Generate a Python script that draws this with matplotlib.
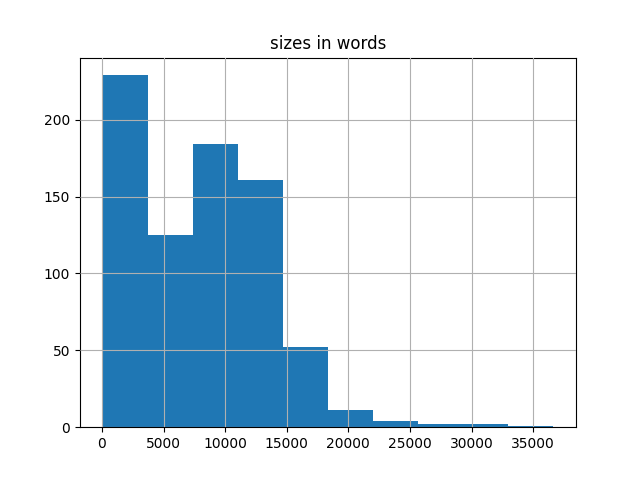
import matplotlib
matplotlib.use("Agg")
import matplotlib.pyplot as plt
import numpy as np

min_size = 50
max_size = 36650
counts = [229, 125, 184, 161, 52, 11, 4, 2, 2, 1]
title = "sizes in words"

edges = np.linspace(min_size, max_size, len(counts) + 1)
fig, ax = plt.subplots(figsize=(6.4, 4.8), dpi=100)
ax.hist(edges[:-1], bins=edges, weights=counts, color="#1f77b4")
ax.grid(True)
ax.set_axisbelow(False)
ax.set_title(title)
fig.savefig("out.png")
